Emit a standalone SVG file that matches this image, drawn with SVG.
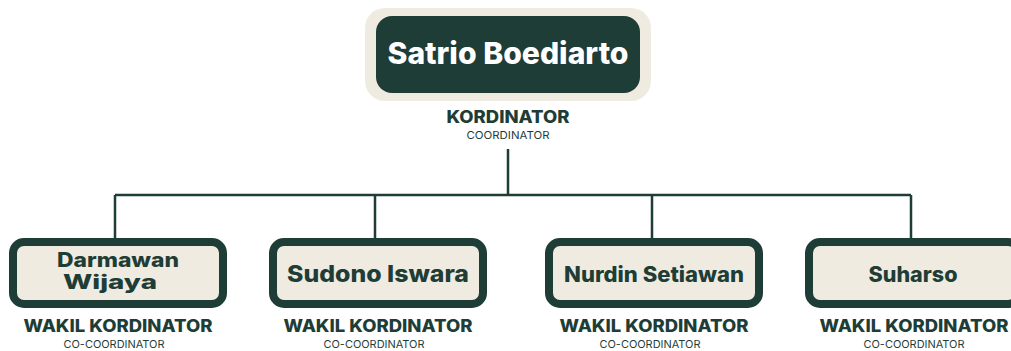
<svg xmlns="http://www.w3.org/2000/svg" width="1011" height="351" viewBox="0 0 1011 351">
<style>
.card{fill:#f0ebe0;stroke:#1e3d36;stroke-width:8}
.name{font-family:Inter,"Open Sans",sans-serif;font-weight:800;fill:#1e3d36;text-anchor:middle}
.role{font-family:Inter,"Open Sans",sans-serif;font-weight:800;fill:#1e3d36;text-anchor:middle;font-size:17px}
.sub{font-family:Inter,"Open Sans",sans-serif;font-weight:400;fill:#1e3d36;text-anchor:middle;font-size:10.5px}
.conn{stroke:#1e3d36;stroke-width:2.5;fill:none}
</style>
<rect width="1011" height="351" fill="#ffffff"/>
<g id="connectors">
<path class="conn" d="M508 149V195M115 195H911M115 195V240M375 195V240M652 195V240M911 195V240"/>
</g>
<g id="node-satrio">
<rect x="365" y="8" width="286" height="93" rx="20" fill="#f0ebe0"/>
<rect x="376" y="16" width="264" height="77" rx="16" fill="#1e3d36"/>
<text x="508" y="64" class="name" style="fill:#ffffff;font-size:30px" textLength="241" lengthAdjust="spacingAndGlyphs">Satrio Boediarto</text>
<text x="508" y="123" class="role" textLength="123" lengthAdjust="spacingAndGlyphs">KORDINATOR</text>
<text x="508" y="139" class="sub" textLength="83" lengthAdjust="spacingAndGlyphs">COORDINATOR</text>
</g>
<g id="node-darmawan">
<rect class="card" x="13" y="242" width="210" height="62" rx="11"/>
<text x="118" y="267" class="name" style="font-size:20px" textLength="122" lengthAdjust="spacingAndGlyphs">Darmawan</text>
<text x="110" y="289" class="name" style="font-size:20px" textLength="94" lengthAdjust="spacingAndGlyphs">Wijaya</text>
<text x="118" y="332" class="role" textLength="189" lengthAdjust="spacingAndGlyphs">WAKIL KORDINATOR</text>
<text x="114" y="348" class="sub" textLength="101" lengthAdjust="spacingAndGlyphs">CO-COORDINATOR</text>
</g>
<g id="node-sudono">
<rect class="card" x="273" y="242" width="210" height="62" rx="11"/>
<text x="378" y="282" class="name" style="font-size:23px" textLength="182" lengthAdjust="spacingAndGlyphs">Sudono Iswara</text>
<text x="378" y="332" class="role" textLength="189" lengthAdjust="spacingAndGlyphs">WAKIL KORDINATOR</text>
<text x="374" y="348" class="sub" textLength="101" lengthAdjust="spacingAndGlyphs">CO-COORDINATOR</text>
</g>
<g id="node-nurdin">
<rect class="card" x="549" y="242" width="210" height="62" rx="11"/>
<text x="654" y="282" class="name" style="font-size:21px" textLength="180" lengthAdjust="spacingAndGlyphs">Nurdin Setiawan</text>
<text x="654" y="332" class="role" textLength="189" lengthAdjust="spacingAndGlyphs">WAKIL KORDINATOR</text>
<text x="650" y="348" class="sub" textLength="101" lengthAdjust="spacingAndGlyphs">CO-COORDINATOR</text>
</g>
<g id="node-suharso">
<rect class="card" x="809" y="242" width="210" height="62" rx="11"/>
<text x="913" y="282" class="name" style="font-size:21px" textLength="89" lengthAdjust="spacingAndGlyphs">Suharso</text>
<text x="914" y="332" class="role" textLength="189" lengthAdjust="spacingAndGlyphs">WAKIL KORDINATOR</text>
<text x="914" y="348" class="sub" textLength="101" lengthAdjust="spacingAndGlyphs">CO-COORDINATOR</text>
</g>
</svg>
